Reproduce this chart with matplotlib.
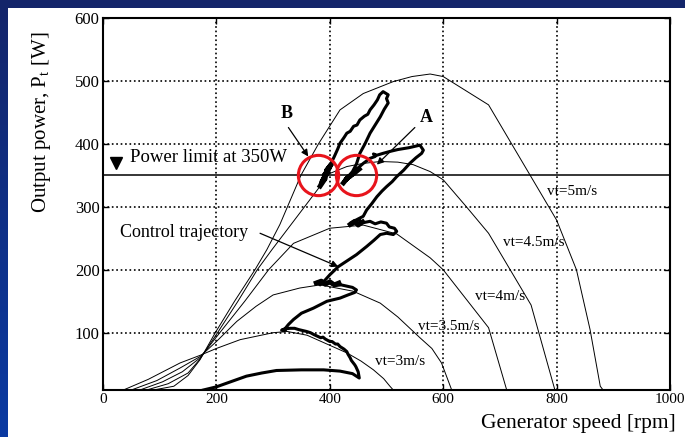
import numpy as np
import matplotlib
matplotlib.use("Agg")
import matplotlib.pyplot as plt
from matplotlib.patches import Rectangle
from matplotlib.colors import LinearSegmentedColormap

plt.rcParams['font.family'] = ['Liberation Serif', 'DejaVu Serif']
plt.rcParams['mathtext.fontset'] = 'custom'
plt.rcParams['mathtext.rm'] = 'Liberation Serif'
plt.rcParams['mathtext.it'] = 'Liberation Serif:italic'

# power curves for each wind speed (speed rpm, power W)
vt3_x = [36, 80, 136, 171, 200, 242, 300, 325, 360, 400, 430, 455, 477, 495, 506, 512]
vt3_y = [9, 26, 52, 64, 75, 89, 100, 102, 96, 80, 68, 55, 41, 27, 15, 9]

vt35_x = [50, 95, 136, 171, 200, 236, 270, 300, 347, 383, 441, 489, 520, 559, 580, 597, 615]
vt35_y = [9, 24, 44, 62, 86, 118, 142, 160, 171, 176, 166, 147, 125, 92, 75, 52, 9]

vt4_x = [65, 105, 140, 171, 206, 250, 292, 336, 400, 459, 518, 577, 600, 680, 712]
vt4_y = [9, 22, 38, 60, 100, 150, 200, 242, 266, 271, 257, 219, 200, 108, 9]

vt45_x = [77, 115, 150, 171, 202, 238, 272, 298, 336, 400, 430, 459, 489, 520, 547, 577, 600,
          641, 680, 755, 797]
vt45_y = [9, 19, 36, 58, 100, 150, 200, 232, 277, 353, 364, 369, 372, 371, 367, 356, 343,
          300, 258, 144, 9]

vt5_x = [89, 125, 150, 171, 198, 232, 268, 289, 312, 349, 380, 418, 459, 512, 545, 577, 600,
         680, 800, 835, 859, 877, 882]
vt5_y = [9, 15, 32, 57, 100, 150, 200, 232, 272, 350, 400, 454, 480, 499, 507, 511, 507,
         462, 279, 200, 105, 15, 9]

curve_labels = ['vt=3m/s', 'vt=3.5m/s', 'vt=4m/s', 'vt=4.5m/s', 'vt=5m/s']
label_x = [480, 556, 656, 705, 783]
label_y = [55, 110, 157, 243, 324]

# control trajectory
traj = [(177, 9), (200, 14), (225, 22), (253, 31), (280, 36), (306, 40), (350, 41), (389, 41),
        (418, 39), (440, 35), (452, 28), (450, 38), (446, 46), (444, 49), (438, 56), (436, 60),
        (432, 66), (430, 70), (425, 74), (418, 78), (414, 82), (410, 82), (404, 86), (400, 86),
        (392, 90), (388, 93), (384, 92), (372, 97), (366, 100), (359, 102), (345, 105),
        (338, 107), (330, 107), (320, 106), (315, 104), (322, 105), (318, 103),
        (327, 113), (336, 121), (350, 131), (371, 139), (395, 150), (418, 155), (432, 160),
        (444, 164), (447, 168), (440, 172), (430, 174), (420, 176), (410, 175), (400, 179),
        (392, 177), (385, 182), (377, 180), (383, 176), (390, 182),
        (400, 192), (415, 205), (430, 214), (447, 224), (465, 237), (478, 247), (489, 256),
        (500, 258), (512, 256), (518, 261), (514, 266), (505, 268), (500, 274), (490, 276),
        (480, 273), (471, 277), (460, 275), (450, 279), (440, 272), (436, 274), (442, 277),
        (459, 285), (465, 295), (474, 305), (483, 316), (492, 325), (500, 332), (510, 340),
        (518, 348), (530, 358), (541, 369), (552, 378), (562, 385), (565, 390), (562, 394),
        (559, 398), (540, 394), (520, 391), (506, 388), (494, 385), (483, 382), (477, 384),
        (480, 380), (471, 377), (465, 373), (459, 369), (450, 362), (441, 353),
        (435, 348), (445, 356), (428, 342), (440, 352), (424, 340), (447, 358), (432, 346),
        (440, 356), (447, 368), (453, 385), (462, 400), (471, 417), (480, 430), (489, 443),
        (496, 455), (503, 465), (500, 472), (503, 478), (494, 483), (488, 478), (484, 470),
        (478, 462), (471, 454), (467, 447), (461, 444), (453, 438), (448, 430), (442, 428),
        (436, 420), (430, 417), (425, 410), (418, 401), (414, 392), (408, 380), (400, 365),
        (396, 360), (392, 352), (398, 362), (386, 342), (394, 356), (383, 336), (390, 350),
        (385, 338)]
traj_x = [p[0] for p in traj]
traj_y = [p[1] for p in traj]

# dense noisy parts of the trajectory
blob_b_x = [383, 392, 386, 397, 390, 400, 394, 403, 396]
blob_b_y = [333, 345, 340, 356, 350, 363, 357, 368, 360]
blob_a_x = [424, 433, 428, 440, 435, 447, 441, 452]
blob_a_y = [338, 348, 343, 353, 348, 358, 352, 360]
blob_35_x = [376, 385, 392, 400, 408, 416]
blob_35_y = [179, 182, 177, 181, 176, 179]
blob_4_x = [436, 444, 450, 458]
blob_4_y = [272, 277, 271, 276]

power_limit = 350
circle_x = [380, 447]
circle_y = [350, 350]

fig = plt.figure(figsize=(6.85, 4.37), dpi=100)

# slide background
bg = fig.add_axes([0, 0, 1, 1])
grad = np.linspace(0, 1, 256).reshape(-1, 1)
cmap = LinearSegmentedColormap.from_list('bg', ['#14256a', '#0a3aa2'])
bg.imshow(grad, aspect='auto', cmap=cmap, extent=[0, 1, 0, 1], origin='upper')
bg.add_patch(Rectangle((8 / 685, 0), 1, 1 - 8 / 437, facecolor='white', edgecolor='none'))
bg.set_xlim(0, 1)
bg.set_ylim(0, 1)
bg.axis('off')

ax = fig.add_axes([103 / 685, 47 / 437, 567 / 685, 372 / 437])
ax.set_facecolor('white')

for cx, cy in [(vt3_x, vt3_y), (vt35_x, vt35_y), (vt4_x, vt4_y), (vt45_x, vt45_y), (vt5_x, vt5_y)]:
    ax.plot(cx, cy, color='k', lw=0.7)

for lab, lx, ly in zip(curve_labels, label_x, label_y):
    ax.text(lx, ly, lab, fontsize=11, ha='left', va='center')

ax.plot(traj_x, traj_y, color='k', lw=2.2, solid_joinstyle='round')
for bx, by in [(blob_b_x, blob_b_y), (blob_a_x, blob_a_y), (blob_35_x, blob_35_y), (blob_4_x, blob_4_y)]:
    ax.plot(bx, by, color='k', lw=3.5, solid_joinstyle='round')

ax.axhline(power_limit, color='k', lw=1.1)
ax.plot([23], [370], marker='v', color='k', markersize=8)
ax.text(48, 378, 'Power limit at 350W', fontsize=13.5, ha='left', va='center')

ax.plot(circle_x, circle_y, 'o', mfc='none', mec='#e8141c', mew=2.2, markersize=29)

arrow = dict(arrowstyle='-|>', color='k', lw=0.9, mutation_scale=10, shrinkA=0, shrinkB=0)
ax.annotate('', xy=(362, 380), xytext=(327, 426), arrowprops=arrow)
ax.annotate('', xy=(483, 367), xytext=(550, 426), arrowprops=arrow)
ax.annotate('', xy=(415, 205), xytext=(277, 258), arrowprops=arrow)
ax.text(323, 448, 'B', fontsize=13, fontweight='bold', ha='center', va='center')
ax.text(571, 442, 'A', fontsize=13, fontweight='bold', ha='center', va='center')
ax.text(30, 259, 'Control trajectory', fontsize=13, ha='left', va='center')

ax.set_xlim(0, 1000)
ax.set_ylim(9, 600)
ax.set_xticks([0, 200, 400, 600, 800, 1000])
ax.set_yticks([100, 200, 300, 400, 500, 600])
ax.grid(True, linestyle=':', color='k', lw=1.2)
ax.tick_params(direction='in', top=True, right=True, length=4, width=1, pad=2.5)
ax.tick_params(axis='x', labelsize=11)
ax.tick_params(axis='y', labelsize=12)
for s in ax.spines.values():
    s.set_linewidth(1.5)

ax.set_xlabel('Generator speed [rpm]', fontsize=15.5, ha='right')
ax.xaxis.set_label_coords(1.01, -0.065)
ax.set_ylabel(r'Output power, P$_{\mathrm{t}}$ [W]', fontsize=15)
ax.yaxis.set_label_coords(-0.088, 0.72)

fig.savefig('out.png', dpi=100)
